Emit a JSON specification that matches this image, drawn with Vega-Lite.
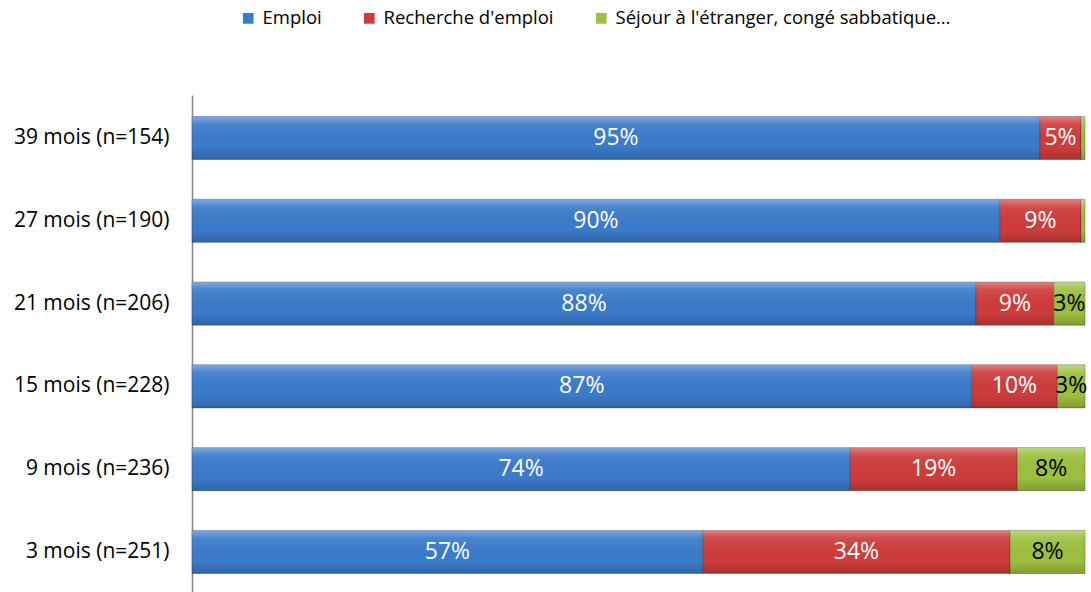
{
  "$schema": "https://vega.github.io/schema/vega-lite/v6.json",
  "width": 893,
  "height": 500,
  "autosize": {"type": "none"},
  "padding": {"left": 192, "top": 95, "right": 6, "bottom": -3},
  "background": "white",
  "config": {"view": {"stroke": null}, "font": "Open Sans"},
  "data": {
    "values": [
      {"periode": "39 mois (n=154)", "statut": "Emploi", "ord": 1, "pct": 95.0, "label": "95%"},
      {"periode": "39 mois (n=154)", "statut": "Recherche d'emploi", "ord": 2, "pct": 4.6, "label": "5%"},
      {"periode": "39 mois (n=154)", "statut": "Séjour à l'étranger, congé sabbatique…", "ord": 3, "pct": 0.45, "label": ""},
      {"periode": "27 mois (n=190)", "statut": "Emploi", "ord": 1, "pct": 90.5, "label": "90%"},
      {"periode": "27 mois (n=190)", "statut": "Recherche d'emploi", "ord": 2, "pct": 9.1, "label": "9%"},
      {"periode": "27 mois (n=190)", "statut": "Séjour à l'étranger, congé sabbatique…", "ord": 3, "pct": 0.45, "label": ""},
      {"periode": "21 mois (n=206)", "statut": "Emploi", "ord": 1, "pct": 87.8, "label": "88%"},
      {"periode": "21 mois (n=206)", "statut": "Recherche d'emploi", "ord": 2, "pct": 8.7, "label": "9%"},
      {"periode": "21 mois (n=206)", "statut": "Séjour à l'étranger, congé sabbatique…", "ord": 3, "pct": 3.5, "label": "3%"},
      {"periode": "15 mois (n=228)", "statut": "Emploi", "ord": 1, "pct": 87.2, "label": "87%"},
      {"periode": "15 mois (n=228)", "statut": "Recherche d'emploi", "ord": 2, "pct": 9.6, "label": "10%"},
      {"periode": "15 mois (n=228)", "statut": "Séjour à l'étranger, congé sabbatique…", "ord": 3, "pct": 3.1, "label": "3%"},
      {"periode": "9 mois (n=236)", "statut": "Emploi", "ord": 1, "pct": 73.7, "label": "74%"},
      {"periode": "9 mois (n=236)", "statut": "Recherche d'emploi", "ord": 2, "pct": 18.7, "label": "19%"},
      {"periode": "9 mois (n=236)", "statut": "Séjour à l'étranger, congé sabbatique…", "ord": 3, "pct": 7.6, "label": "8%"},
      {"periode": "3 mois (n=251)", "statut": "Emploi", "ord": 1, "pct": 57.2, "label": "57%"},
      {"periode": "3 mois (n=251)", "statut": "Recherche d'emploi", "ord": 2, "pct": 34.4, "label": "34%"},
      {"periode": "3 mois (n=251)", "statut": "Séjour à l'étranger, congé sabbatique…", "ord": 3, "pct": 8.4, "label": "8%"}
    ]
  },
  "transform": [
    {"stack": "pct", "groupby": ["periode"], "sort": [{"field": "ord"}], "as": ["x0", "x1"], "offset": "normalize"},
    {"calculate": "(datum.x0 + datum.x1) / 2", "as": "xm"}
  ],
  "encoding": {
    "y": {
      "field": "periode",
      "type": "nominal",
      "sort": ["39 mois (n=154)", "27 mois (n=190)", "21 mois (n=206)", "15 mois (n=228)", "9 mois (n=236)", "3 mois (n=251)"],
      "scale": {"paddingInner": 0.48, "paddingOuter": 0.26},
      "axis": {
        "title": null,
        "ticks": false,
        "labelFontSize": 21,
        "labelColor": "#000000",
        "labelPadding": 23,
        "labelLimit": 300,
        "domainColor": "#888888",
        "domainWidth": 1.5,
        "labelFont": "Open Sans"
      }
    }
  },
  "layer": [
    {
      "mark": {"type": "bar", "stroke": "#2b2b2b", "strokeOpacity": 0.35, "strokeWidth": 1},
      "encoding": {
        "x": {"field": "x0", "type": "quantitative", "scale": {"domain": [0, 1], "nice": false}, "axis": null},
        "x2": {"field": "x1"},
        "color": {
          "field": "statut",
          "type": "nominal",
          "sort": ["Emploi", "Recherche d'emploi", "Séjour à l'étranger, congé sabbatique…"],
          "scale": {
            "domain": ["Emploi", "Recherche d'emploi", "Séjour à l'étranger, congé sabbatique…"],
            "range": ["#3B7BCB", "#CF3C3C", "#9CC03F"]
          },
          "legend": {
            "title": null,
            "orient": "none",
            "direction": "horizontal",
            "legendX": 47,
            "legendY": -86,
            "symbolType": "square",
            "symbolSize": 115,
            "symbolStrokeWidth": 0,
            "labelFontSize": 18.5,
            "labelLimit": 0,
            "labelFont": "Open Sans",
            "labelColor": "#000000",
            "columnPadding": 38,
            "labelOffset": 5
          }
        }
      }
    },
    {
      "mark": {
        "type": "bar",
        "fill": {
          "gradient": "linear",
          "x1": 0, "y1": 0, "x2": 0, "y2": 1,
          "stops": [
            {"offset": 0, "color": "rgba(255,255,255,0.35)"},
            {"offset": 0.18, "color": "rgba(255,255,255,0.08)"},
            {"offset": 0.7, "color": "rgba(0,0,0,0)"},
            {"offset": 1, "color": "rgba(0,0,0,0.18)"}
          ]
        },
        "strokeWidth": 0
      },
      "encoding": {
        "x": {"field": "x0", "type": "quantitative"},
        "x2": {"field": "x1"}
      }
    },
    {
      "mark": {"type": "text", "fontSize": 23, "font": "Open Sans", "baseline": "middle", "align": "center"},
      "encoding": {
        "x": {"field": "xm", "type": "quantitative"},
        "text": {"field": "label"},
        "color": {
          "condition": {"test": "datum.ord == 3", "value": "#000000"},
          "value": "#FFFFFF"
        }
      }
    }
  ]
}
